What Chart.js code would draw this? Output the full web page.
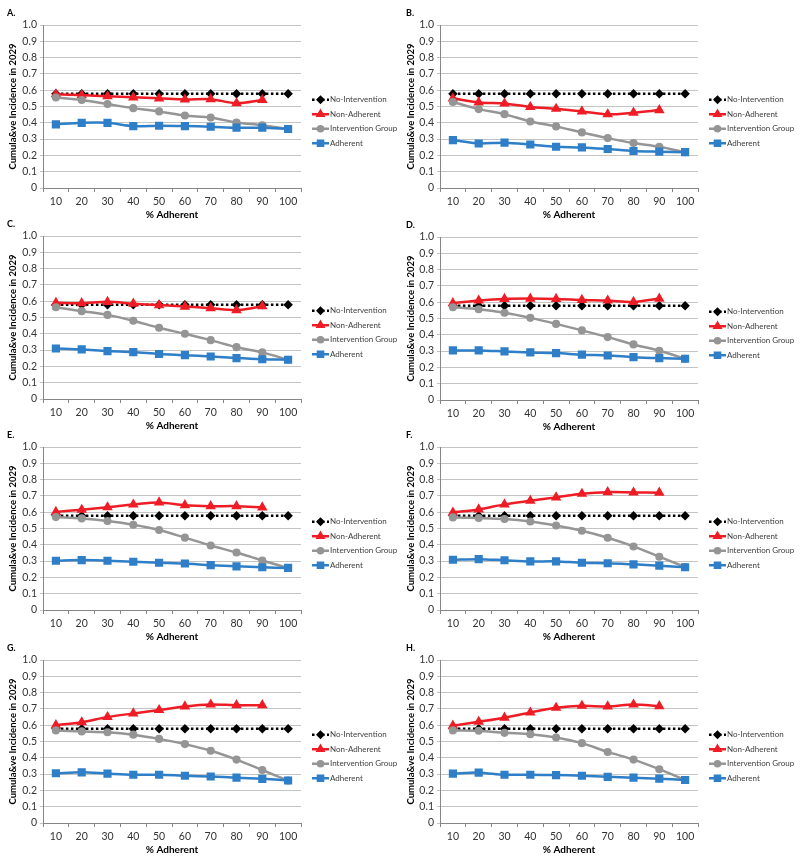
<!DOCTYPE html>
<html>
<head>
<meta charset="utf-8">
<script src="https://cdn.jsdelivr.net/npm/chart.js@4.4.1/dist/chart.umd.min.js"></script>
<style>
    body { margin: 0; background: #fff; width: 800px; height: 863px; position: relative; overflow: hidden; }
    canvas { position: absolute; }
</style>
</head>
<body>
<script>
    // x categories (% adherent) and series names
    const adherence = ['10', '20', '30', '40', '50', '60', '70', '80', '90', '100'];
    const seriesNames = ['No-Intervention', 'Non-Adherent', 'Intervention Group', 'Adherent'];

    // baseline, same in every panel
    const noIntervention = [0.578, 0.578, 0.578, 0.578, 0.578, 0.578, 0.578, 0.578, 0.578, 0.578];

    // panel A
    const nonAdherentA = [0.575, 0.57, 0.563, 0.556, 0.55, 0.543, 0.545, 0.52, 0.54];
    const interventionA = [0.555, 0.54, 0.515, 0.49, 0.47, 0.445, 0.432, 0.402, 0.385, 0.362];
    const adherentA = [0.39, 0.4, 0.4, 0.38, 0.382, 0.38, 0.376, 0.37, 0.37, 0.362];
    // panel B
    const nonAdherentB = [0.55, 0.525, 0.518, 0.497, 0.486, 0.47, 0.452, 0.462, 0.478];
    const interventionB = [0.528, 0.484, 0.453, 0.408, 0.378, 0.341, 0.306, 0.276, 0.253, 0.22];
    const adherentB = [0.294, 0.273, 0.278, 0.267, 0.253, 0.249, 0.239, 0.227, 0.223, 0.22];
    // panel C
    const nonAdherentC = [0.59, 0.588, 0.596, 0.585, 0.576, 0.567, 0.557, 0.545, 0.569];
    const interventionC = [0.563, 0.539, 0.516, 0.48, 0.437, 0.4, 0.361, 0.318, 0.286, 0.241];
    const adherentC = [0.31, 0.304, 0.294, 0.288, 0.276, 0.269, 0.261, 0.251, 0.244, 0.241];
    // panel D
    const nonAdherentD = [0.594, 0.61, 0.62, 0.622, 0.62, 0.614, 0.61, 0.602, 0.622];
    const interventionD = [0.569, 0.557, 0.535, 0.504, 0.467, 0.427, 0.386, 0.341, 0.302, 0.253];
    const adherentD = [0.304, 0.304, 0.298, 0.292, 0.288, 0.278, 0.273, 0.263, 0.257, 0.253];
    // panel E
    const nonAdherentE = [0.602, 0.615, 0.63, 0.647, 0.66, 0.643, 0.637, 0.637, 0.629];
    const interventionE = [0.57, 0.562, 0.546, 0.523, 0.491, 0.444, 0.396, 0.353, 0.304, 0.258];
    const adherentE = [0.302, 0.306, 0.302, 0.296, 0.29, 0.285, 0.275, 0.268, 0.262, 0.258];
    // panel F
    const nonAdherentF = [0.598, 0.617, 0.648, 0.67, 0.691, 0.713, 0.723, 0.721, 0.72];
    const interventionF = [0.568, 0.564, 0.558, 0.543, 0.518, 0.486, 0.443, 0.39, 0.327, 0.264];
    const adherentF = [0.308, 0.312, 0.305, 0.298, 0.298, 0.29, 0.287, 0.28, 0.272, 0.262];
    // panel G
    const nonAdherentG = [0.6, 0.618, 0.65, 0.672, 0.693, 0.715, 0.727, 0.723, 0.723];
    const interventionG = [0.568, 0.562, 0.557, 0.542, 0.516, 0.484, 0.443, 0.389, 0.325, 0.26];
    const adherentG = [0.305, 0.311, 0.303, 0.296, 0.296, 0.29, 0.285, 0.278, 0.271, 0.261];
    // panel H
    const nonAdherentH = [0.597, 0.621, 0.646, 0.678, 0.707, 0.719, 0.715, 0.727, 0.717];
    const interventionH = [0.568, 0.566, 0.553, 0.545, 0.525, 0.49, 0.436, 0.389, 0.33, 0.264];
    const adherentH = [0.303, 0.309, 0.296, 0.296, 0.294, 0.29, 0.283, 0.278, 0.272, 0.264];

    const panels = [
        { label: 'A.', nonAdh: nonAdherentA, interv: interventionA, adh: adherentA, left: 0, top: 0 },
        { label: 'B.', nonAdh: nonAdherentB, interv: interventionB, adh: adherentB, left: 400, top: 0 },
        { label: 'C.', nonAdh: nonAdherentC, interv: interventionC, adh: adherentC, left: 0, top: 211 },
        { label: 'D.', nonAdh: nonAdherentD, interv: interventionD, adh: adherentD, left: 400, top: 212 },
        { label: 'E.', nonAdh: nonAdherentE, interv: interventionE, adh: adherentE, left: 0, top: 422 },
        { label: 'F.', nonAdh: nonAdherentF, interv: interventionF, adh: adherentF, left: 400, top: 422 },
        { label: 'G.', nonAdh: nonAdherentG, interv: interventionG, adh: adherentG, left: 0, top: 635 },
        { label: 'H.', nonAdh: nonAdherentH, interv: interventionH, adh: adherentH, left: 400, top: 635 }
    ];

    const FONT = 'Lato, "Liberation Sans", sans-serif';
    const PLOT_H = 163;

    // draws the "A." style letter above the plot
    const panelLetter = {
        id: 'panelLetter',
        afterDraw(chart, args, opts) {
            const ctx = chart.ctx;
            ctx.save();
            ctx.font = 'bold 9px ' + FONT;
            ctx.fillStyle = '#000';
            ctx.textBaseline = 'middle';
            ctx.fillText(opts.text, opts.x, chart.chartArea.top - 12);
            ctx.restore();
        }
    };

    // legend to the right of the plot, line with marker in the middle
    const sideLegend = {
        id: 'sideLegend',
        afterDraw(chart) {
            const ctx = chart.ctx;
            const area = chart.chartArea;
            const mid = (area.top + area.bottom) / 2 + 15;
            chart.data.datasets.forEach((ds, i) => {
                const y = mid + (i - 1.5) * 14.5;
                const x0 = area.right + 11;
                ctx.save();
                ctx.strokeStyle = ds.borderColor;
                ctx.lineWidth = ds.borderWidth;
                ctx.setLineDash(ds.borderDash || []);
                ctx.beginPath();
                ctx.moveTo(x0, y);
                ctx.lineTo(x0 + 17, y);
                ctx.stroke();
                ctx.setLineDash([]);
                ctx.fillStyle = ds.backgroundColor;
                ctx.strokeStyle = ds.borderColor;
                Chart.helpers.drawPoint(ctx, {
                    pointStyle: ds.pointStyle, radius: ds.pointRadius * 0.9, borderWidth: 1, rotation: 0
                }, x0 + 8.5, y);
                ctx.font = '8px ' + FONT;
                ctx.fillStyle = '#404040';
                ctx.textBaseline = 'middle';
                ctx.fillText(ds.label, x0 + 18, y);
                ctx.restore();
            });
        }
    };

    function makeChart(p) {
        const isLeft = p.left === 0;
        const canvas = document.createElement('canvas');
        canvas.width = 400;
        canvas.height = 25 + PLOT_H + 34;
        canvas.style.left = p.left + 'px';
        canvas.style.top = p.top + 'px';
        document.body.appendChild(canvas);

        new Chart(canvas, {
            type: 'line',
            data: {
                labels: adherence,
                datasets: [{
                    label: seriesNames[0],
                    data: noIntervention,
                    borderColor: '#000',
                    backgroundColor: '#000',
                    borderWidth: 2.5,
                    borderDash: [2.5, 2.5],
                    pointStyle: 'rectRot',
                    pointRadius: 3,
                    tension: 0,
                    order: 4
                }, {
                    label: seriesNames[1],
                    data: p.nonAdh,
                    borderColor: '#ee1c25',
                    backgroundColor: '#ee1c25',
                    borderWidth: 2.5,
                    pointStyle: 'triangle',
                    pointRadius: 3.6,
                    order: 3
                }, {
                    label: seriesNames[2],
                    data: p.interv,
                    borderColor: '#959595',
                    backgroundColor: '#959595',
                    borderWidth: 2.5,
                    pointStyle: 'circle',
                    pointRadius: 2.8,
                    order: 2
                }, {
                    label: seriesNames[3],
                    data: p.adh,
                    borderColor: '#2f7ec8',
                    backgroundColor: '#2f7ec8',
                    borderWidth: 2.5,
                    pointStyle: 'rect',
                    pointRadius: 4,
                    order: 1
                }]
            },
            options: {
                responsive: false,
                animation: false,
                events: [],
                elements: { line: { tension: 0.3 }, point: { borderWidth: 1 } },
                layout: { padding: { top: 25, right: isLeft ? 99 : 102, left: 0, bottom: 0 } },
                plugins: {
                    legend: { display: false },
                    tooltip: { enabled: false },
                    panelLetter: { text: p.label, x: isLeft ? 7 : 6 }
                },
                scales: {
                    x: {
                        offset: true,
                        grid: { offset: true, drawOnChartArea: false, tickLength: 4, color: '#868686' },
                        border: { color: '#868686' },
                        ticks: { font: { family: FONT, size: 10.5 }, color: '#333', padding: 3, maxRotation: 0 },
                        title: {
                            display: true, text: '% Adherent', color: '#000',
                            font: { family: FONT, size: 10, weight: 'bold' }, padding: { top: 0, bottom: 1 }
                        },
                        afterFit(scale) { scale.height = 34; }
                    },
                    y: {
                        min: 0,
                        max: 1,
                        grid: { color: '#c4c4c4', tickLength: 3 },
                        border: { color: '#868686' },
                        ticks: { stepSize: 0.1, font: { family: FONT, size: 10.5 }, color: '#333', padding: 3 },
                        title: {
                            display: true, text: 'Cumula&ve Incidence in 2029', color: '#000',
                            font: { family: FONT, size: 9.5, weight: 'bold' }, padding: { top: isLeft ? 7 : 5, bottom: 0 }
                        },
                        afterFit(scale) { scale.width = isLeft ? 43 : 40; }
                    }
                }
            },
            plugins: [panelLetter, sideLegend]
        });
    }

    panels.forEach(makeChart);
</script>
</body>
</html>
